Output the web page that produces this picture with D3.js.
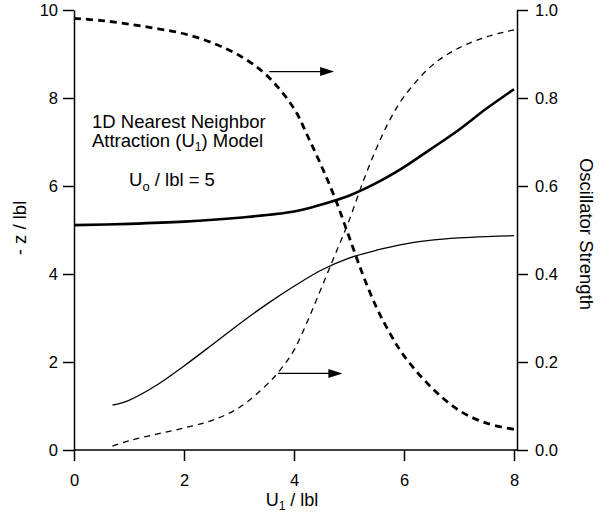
<!DOCTYPE html>
<html>
<head>
<meta charset="utf-8">
<script src="https://cdn.jsdelivr.net/npm/d3@7"></script>
<style>
  body { margin: 0; background: #fff; }
  text { font-family: "Liberation Sans", Arial, Helvetica, sans-serif; fill: #000; }
</style>
</head>
<body>
<svg id="chart"></svg>
<script>
// U1/|b| values and curves
var thickSolidU = [0, 1, 2, 3, 4, 4.5, 5, 5.5, 6, 6.5, 7, 7.5, 8];
var thickSolidZ = [5.11, 5.14, 5.19, 5.28, 5.42, 5.58, 5.78, 6.07, 6.43, 6.85, 7.28, 7.76, 8.2];

var thinSolidU = [0.7, 1, 1.5, 2, 2.5, 3, 3.5, 4, 4.5, 5, 5.5, 6, 6.5, 7, 7.5, 8];
var thinSolidZ = [1.02, 1.13, 1.47, 1.91, 2.38, 2.86, 3.31, 3.72, 4.09, 4.36, 4.54, 4.68, 4.77, 4.82, 4.85, 4.87];

var thickDashU = [0, 0.5, 1, 1.5, 2, 2.5, 3, 3.5, 4, 4.25, 4.5, 4.75, 5, 5.25, 5.5, 5.75, 6, 6.5, 7, 7.5, 8];
var thickDashF = [0.981, 0.976, 0.968, 0.958, 0.946, 0.926, 0.897, 0.852, 0.776, 0.713, 0.645, 0.571, 0.485, 0.399, 0.324, 0.264, 0.214, 0.142, 0.09, 0.061, 0.047];

var thinDashU = [0.7, 1, 1.5, 2, 2.5, 3, 3.5, 3.75, 4, 4.25, 4.5, 4.75, 5, 5.25, 5.5, 5.75, 6, 6.5, 7, 7.5, 8];
var thinDashF = [0.009, 0.021, 0.036, 0.05, 0.067, 0.096, 0.148, 0.182, 0.227, 0.294, 0.369, 0.445, 0.521, 0.608, 0.686, 0.752, 0.803, 0.873, 0.914, 0.939, 0.955];

var xTicks = [0, 2, 4, 6, 8];
var leftTicks = [0, 2, 4, 6, 8, 10];
var rightTicks = [0, 0.2, 0.4, 0.6, 0.8, 1.0];

// arrows: from u0 to u1 at oscillator strength f
var arrowU0 = [3.55, 3.71];
var arrowU1 = [4.73, 4.88];
var arrowF = [0.86, 0.174];

var svg = d3.select('#chart')
            .attr('width', 613)
            .attr('height', 516);

var x = d3.scaleLinear().domain([0, 8]).range([74, 514]);
var yL = d3.scaleLinear().domain([0, 10]).range([450, 10]);
var yR = d3.scaleLinear().domain([0, 1]).range([450, 10]);
var rightX = 517;

function zip(a, b) { return a.map(function (v, i) { return [v, b[i]]; }); }

// axes
var leftAxis = d3.axisLeft(yL).tickValues(leftTicks).tickSize(11).tickPadding(5).tickSizeOuter(0);
var rightAxis = d3.axisRight(yR).tickValues(rightTicks).tickSize(11).tickPadding(7).tickSizeOuter(0)
                  .tickFormat(d3.format('.1f'));
var bottomAxis = d3.axisBottom(x).tickValues(xTicks).tickSize(11).tickPadding(13).tickSizeOuter(0);

var gB = svg.append('g').attr('transform', 'translate(0,450)').call(bottomAxis);
gB.select('.domain').remove();
svg.append('line')
   .attr('x1', x(0)).attr('x2', rightX)
   .attr('y1', 450).attr('y2', 450)
   .attr('stroke', '#000').attr('stroke-width', 1.5);

svg.append('g').attr('transform', 'translate(74,0)').call(leftAxis);
svg.append('g').attr('transform', 'translate(' + rightX + ',0)').call(rightAxis);

svg.selectAll('.tick line').attr('stroke', '#000').attr('stroke-width', 1.5);
svg.selectAll('.domain').attr('stroke', '#000').attr('stroke-width', 1.5);
svg.selectAll('.tick text').style('font-size', '16.5px')
   .style('font-family', '"Liberation Sans", Arial, Helvetica, sans-serif');

// curves
var lineL = d3.line().x(function (d) { return x(d[0]); }).y(function (d) { return yL(d[1]); })
              .curve(d3.curveCatmullRom.alpha(0.5));
var lineR = d3.line().x(function (d) { return x(d[0]); }).y(function (d) { return yR(d[1]); })
              .curve(d3.curveCatmullRom.alpha(0.5));

svg.append('path').datum(zip(thickSolidU, thickSolidZ))
   .attr('d', lineL).attr('fill', 'none').attr('stroke', '#000').attr('stroke-width', 2.6);

svg.append('path').datum(zip(thinSolidU, thinSolidZ))
   .attr('d', lineL).attr('fill', 'none').attr('stroke', '#000').attr('stroke-width', 1.3);

svg.append('path').datum(zip(thickDashU, thickDashF))
   .attr('d', lineR).attr('fill', 'none').attr('stroke', '#000').attr('stroke-width', 2.8)
   .attr('stroke-dasharray', '7,5');

svg.append('path').datum(zip(thinDashU, thinDashF))
   .attr('d', lineR).attr('fill', 'none').attr('stroke', '#000').attr('stroke-width', 1.3)
   .attr('stroke-dasharray', '6,5');

// arrows
arrowF.forEach(function (f, i) {
    var y = yR(f), xa = x(arrowU0[i]), xb = x(arrowU1[i]);
    svg.append('line').attr('x1', xa).attr('x2', xb - 10).attr('y1', y).attr('y2', y)
       .attr('stroke', '#000').attr('stroke-width', 1.3);
    svg.append('path')
       .attr('d', 'M' + xb + ',' + y + 'L' + (xb - 14) + ',' + (y - 4.5) + 'L' + (xb - 14) + ',' + (y + 4.5) + 'Z')
       .attr('fill', '#000');
});

// annotation text
var ann = svg.append('g').style('font-size', '18.5px');
ann.append('text').attr('x', 92).attr('y', 128).text('1D Nearest Neighbor');
var t2 = ann.append('text').attr('x', 92).attr('y', 147);
t2.append('tspan').text('Attraction (U');
t2.append('tspan').attr('dy', 4).style('font-size', '12px').text('1');
t2.append('tspan').attr('dy', -4).text(') Model');
var t3 = ann.append('text').attr('x', 129).attr('y', 186);
t3.append('tspan').text('U');
t3.append('tspan').attr('dy', 5).style('font-size', '13px').text('o');
t3.append('tspan').attr('dy', -5).text(' / lbl = 5');

// axis titles
var xt = svg.append('text').attr('x', 292).attr('y', 506).attr('text-anchor', 'middle').style('font-size', '18px');
xt.append('tspan').text('U');
xt.append('tspan').attr('dy', 4).style('font-size', '12px').text('1');
xt.append('tspan').attr('dy', -4).text(' / lbl');

svg.append('text').attr('transform', 'translate(26,228) rotate(-90)')
   .attr('text-anchor', 'middle').style('font-size', '18.5px').text('- z / lbl');

svg.append('text').attr('transform', 'translate(580,234) rotate(90)')
   .attr('text-anchor', 'middle').style('font-size', '18.5px').text('Oscillator Strength');
</script>
</body>
</html>
